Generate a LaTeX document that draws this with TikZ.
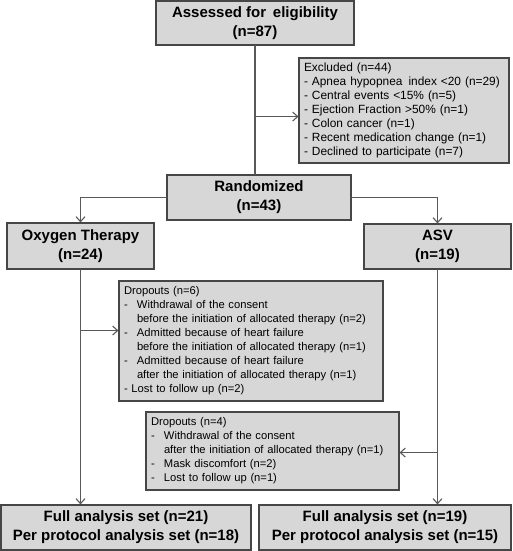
\documentclass[tikz,border=0pt]{standalone}
\usepackage{fontspec}
\setmainfont{Liberation Sans}
\usetikzlibrary{arrows.meta}
\definecolor{boxfill}{RGB}{215,215,215}
\definecolor{boxline}{RGB}{70,70,70}
\newcommand{\dashitem}{\makebox[13pt][l]{-}}
\newcommand{\dashgap}{\hspace*{13pt}}

\begin{document}
\begin{tikzpicture}[x=1pt,y=-1pt,>={Straight Barb[length=5pt,width=9pt]},line cap=round,
  mainbox/.style={draw=boxline,fill=boxfill,line width=1.1pt,inner sep=0pt,align=center,
    font=\fontsize{15}{19}\selectfont\bfseries},
  listbox/.style={draw=boxline,fill=boxfill,line width=1.1pt,inner xsep=5pt,inner ysep=0pt,align=left,
    font=\fontsize{11.2}{14}\selectfont},
  flow/.style={draw=black!65,line width=1.1pt}]
\useasboundingbox (0,0) rectangle (512,551);
\node[mainbox,minimum width=198,minimum height=44] (assess) at (255,23) {Assessed for\, eligibility\\(n=87)};
\node[listbox,text width=200,minimum height=105,font=\fontsize{11.9}{14}\selectfont] (excl) at (404,110.5) {Excluded (n=44)\\
- Apnea hypopnea\, index <20 (n=29)\\
- Central events <15\% (n=5)\\
- Ejection Fraction >50\% (n=1)\\
- Colon cancer (n=1)\\
- Recent medication change (n=1)\\
- Declined to participate (n=7)};
\node[mainbox,minimum width=184,minimum height=45] (rand) at (259,197.5) {Randomized\\(n=43)};
\node[mainbox,minimum width=147,minimum height=46] (oxy) at (80.5,246) {Oxygen Therapy\\(n=24)};
\node[mainbox,minimum width=147,minimum height=45] (asv) at (437.5,246.5) {ASV\\(n=19)};
\node[listbox,text width=254,minimum height=120] (drop1) at (251,341) {Dropouts (n=6)\\
\dashitem Withdrawal of the consent\\
\dashgap before the initiation of allocated therapy (n=2)\\
\dashitem Admitted because of heart failure\\
\dashgap before the initiation of allocated therapy (n=1)\\
\dashitem Admitted because of heart failure\\
\dashgap after the initiation of allocated therapy (n=1)\\
- Lost to follow up (n=2)};
\node[listbox,text width=243,minimum height=78] (drop2) at (272.5,451) {Dropouts (n=4)\\
\dashitem Withdrawal of the consent\\
\dashgap after the initiation of allocated therapy (n=1)\\
\dashitem Mask discomfort (n=2)\\
\dashitem Lost to follow up (n=1)};
\node[mainbox,minimum width=250,minimum height=45] (fasL) at (126,527.5) {Full analysis set (n=21)\\Per protocol analysis set (n=18)};
\node[mainbox,minimum width=252,minimum height=45] (fasR) at (385,527.5) {Full analysis set (n=19)\\Per protocol analysis set (n=15)};
% connectors
\path (assess.south) ++(0,71) coordinate (j1);
\path (oxy.south) ++(0,61) coordinate (j2);
\path (asv.south) ++(0,183) coordinate (j3);
\draw[flow] (assess.south) -- (assess.south |- rand.north);
\draw[flow,->] (j1) -- (j1 -| excl.west);
\draw[flow,->] (rand.west) -| (oxy.north);
\draw[flow,->] (rand.east) -| (asv.north);
\draw[flow,->] (oxy.south) -- (oxy.south |- fasL.north);
\draw[flow,->] (j2) -- (j2 -| drop1.west);
\draw[flow,->] (asv.south) -- (asv.south |- fasR.north);
\draw[flow,->] (j3) -- (j3 -| drop2.east);
\end{tikzpicture}
\end{document}
